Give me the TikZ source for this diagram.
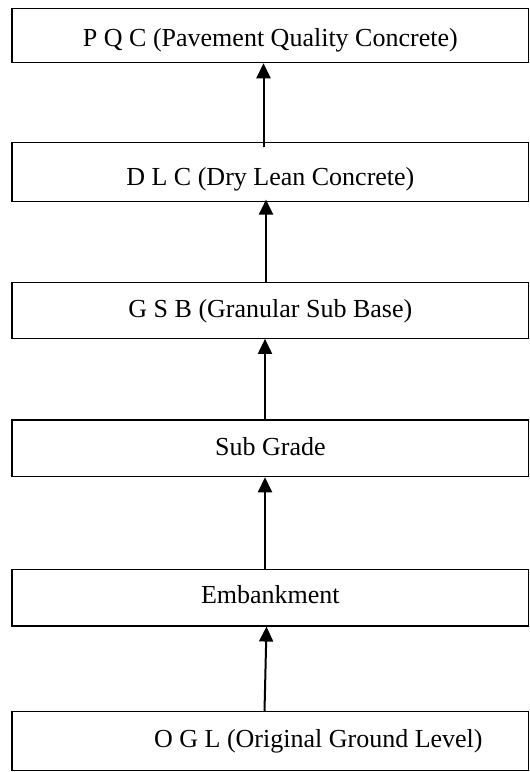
\documentclass[tikz,border=0pt]{standalone}
\usepackage{fontspec}
\setmainfont{Liberation Serif}
\usetikzlibrary{arrows.meta}
\begin{document}
\begin{tikzpicture}[x=1pt,y=1pt,
  layerbox/.style={draw=black, line width=1.1pt, fill=white, rectangle, inner sep=0pt,
    minimum width=516.7pt, font=\fontsize{26}{30}\selectfont, text depth=0pt},
  uparrow/.style={line width=2pt, -{Triangle[length=15pt,width=14pt]}}]
\useasboundingbox (0,0) rectangle (530,-772);
\node[layerbox, minimum height=54pt, text height=21pt] (pqc) at (270.35,-35.7) {P Q C (Pavement Quality Concrete)};
\node[layerbox, minimum height=59pt, text height=26pt] (dlc) at (270.35,-172.2) {D L C (Dry Lean Concrete)};
\node[layerbox, minimum height=56pt, text height=14pt] (gsb) at (270.35,-310.3) {G S B (Granular Sub Base)};
\node[layerbox, minimum height=56.7pt, text height=13.4pt] (sg) at (270.35,-448.35) {Sub Grade};
\node[layerbox, minimum height=56.7pt, text height=12.6pt] (emb) at (270.35,-597.65) {Embankment};
\node[layerbox, minimum height=59pt, text height=13pt] (ogl) at (270.35,-741.2) {\hspace*{96pt}O G L (Original Ground Level)};
\draw[uparrow] ([xshift=-6.85pt,yshift=-5.3pt]dlc.north) -- ([xshift=-6.85pt]pqc.south);
\draw[uparrow] ([xshift=-4.35pt]gsb.north) -- ([xshift=-4.35pt,yshift=2.7pt]dlc.south);
\draw[uparrow] ([xshift=-5.35pt]sg.north) -- ([xshift=-5.35pt]gsb.south);
\draw[uparrow] ([xshift=-5.35pt]emb.north) -- ([xshift=-5.35pt]sg.south);
\draw[uparrow] ([xshift=-5.85pt]ogl.north) -- ([xshift=-3.85pt]emb.south);
\end{tikzpicture}
\end{document}
